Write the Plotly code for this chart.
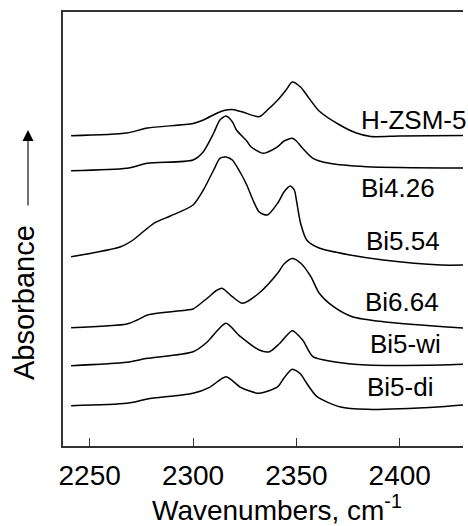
import plotly.graph_objects as go

# ---- data ----
labels = ["H-ZSM-5", "Bi4.26", "Bi5.54", "Bi6.64", "Bi5-wi", "Bi5-di"]

wn_hzsm = [2241, 2268, 2278, 2300, 2305, 2312, 2316, 2319, 2324, 2332, 2336, 2341, 2345, 2348, 2352, 2355, 2361, 2371, 2379, 2386, 2400, 2431]
ab_hzsm = [3.103, 3.13, 3.18, 3.225, 3.26, 3.333, 3.36, 3.365, 3.34, 3.293, 3.36, 3.46, 3.56, 3.64, 3.59, 3.51, 3.35, 3.21, 3.13, 3.095, 3.10, 3.105]

wn_bi426 = [2241, 2268, 2278, 2300, 2305, 2310, 2313, 2316, 2319, 2321, 2326, 2328, 2334, 2341, 2344, 2348, 2350, 2353, 2358, 2366, 2384, 2431]
ab_bi426 = [2.753, 2.777, 2.827, 2.86, 2.943, 3.13, 3.26, 3.30, 3.243, 3.16, 3.05, 2.993, 2.927, 2.993, 3.05, 3.077, 3.05, 2.977, 2.877, 2.827, 2.793, 2.78]

wn_bi554 = [2241, 2265, 2271, 2281, 2289, 2300, 2305, 2310, 2313, 2316, 2319, 2323, 2326, 2329, 2332, 2336, 2341, 2344, 2347, 2349, 2350, 2352, 2355, 2361, 2376, 2392, 2420, 2431]
ab_bi554 = [1.893, 1.993, 2.06, 2.227, 2.30, 2.41, 2.56, 2.76, 2.877, 2.89, 2.86, 2.73, 2.61, 2.46, 2.34, 2.31, 2.43, 2.54, 2.60, 2.56, 2.46, 2.23, 2.06, 1.98, 1.91, 1.86, 1.81, 1.81]

wn_bi664 = [2241, 2268, 2273, 2278, 2297, 2300, 2307, 2311, 2314, 2319, 2324, 2332, 2341, 2344, 2348, 2352, 2357, 2361, 2368, 2377, 2392, 2431]
ab_bi664 = [1.183, 1.22, 1.26, 1.31, 1.36, 1.37, 1.48, 1.55, 1.577, 1.493, 1.427, 1.53, 1.73, 1.82, 1.875, 1.83, 1.693, 1.53, 1.393, 1.293, 1.243, 1.18]

wn_bi5wi = [2241, 2268, 2278, 2300, 2307, 2312, 2316, 2323, 2332, 2337, 2342, 2348, 2353, 2358, 2368, 2384, 2420, 2431]
ab_bi5wi = [0.803, 0.837, 0.877, 0.943, 1.043, 1.16, 1.227, 1.093, 0.96, 0.943, 1.027, 1.153, 1.06, 0.893, 0.843, 0.81, 0.81, 0.817]

wn_bi5di = [2241, 2268, 2278, 2300, 2308, 2316, 2323, 2332, 2341, 2344, 2348, 2352, 2355, 2360, 2371, 2384, 2420, 2431]
ab_bi5di = [0.403, 0.427, 0.47, 0.527, 0.587, 0.693, 0.587, 0.527, 0.593, 0.68, 0.767, 0.72, 0.627, 0.493, 0.393, 0.367, 0.393, 0.41]

x_ticks = [2250, 2300, 2350, 2400]
x_range = [2237.1, 2430.6]

series_x = [wn_hzsm, wn_bi426, wn_bi554, wn_bi664, wn_bi5wi, wn_bi5di]
series_y = [ab_hzsm, ab_bi426, ab_bi554, ab_bi664, ab_bi5wi, ab_bi5di]

# ---- layout constants ----
W, H = 468, 526
L, R, T, B = 63, 5, 12, 80
PW, PH = W - L - R, H - T - B

def px(xp):
    return (xp - L) / PW

def py(yp):
    return (H - B - yp) / PH

FONT = "Liberation Sans, Arial, sans-serif"

# label centres in pixels (layout only)
label_pos = [(413, 120), (398, 188), (403, 241), (402, 302), (405, 344), (400, 387)]

fig = go.Figure()
for xs, ys, name in zip(series_x, series_y, labels):
    fig.add_trace(go.Scatter(x=xs, y=ys, mode="lines", name=name,
                             line=dict(color="black", width=1.5, shape="spline", smoothing=0.7),
                             showlegend=False, hoverinfo="skip"))

annotations = []
for name, (lx, ly) in zip(labels, label_pos):
    annotations.append(dict(text=name, xref="paper", yref="paper", x=px(lx), y=py(ly),
                            xanchor="center", yanchor="middle", showarrow=False,
                            font=dict(family=FONT, size=26, color="black")))

annotations.append(dict(text="Wavenumbers, cm<sup>-1</sup>", xref="paper", yref="paper",
                        x=px(277), y=py(508), xanchor="center", yanchor="middle", showarrow=False,
                        font=dict(family=FONT, size=28, color="black")))
annotations.append(dict(text="Absorbance", xref="paper", yref="paper", x=px(24), y=py(303),
                        xanchor="center", yanchor="middle", textangle=-90, showarrow=False,
                        font=dict(family=FONT, size=29, color="black")))
annotations.append(dict(text="", xref="paper", yref="paper", x=px(28), y=py(130),
                        ax=0, ay=77, showarrow=True, arrowhead=2, arrowsize=2, arrowwidth=1.1,
                        arrowcolor="black"))

fig.update_layout(
    width=W, height=H,
    margin=dict(l=L, r=R, t=T, b=B, pad=0),
    paper_bgcolor="white", plot_bgcolor="white",
    annotations=annotations,
    xaxis=dict(range=x_range, tickvals=x_ticks, ticks="inside", ticklen=8, tickwidth=1,
               tickcolor="#333", showline=True, linecolor="#333", linewidth=1.5, mirror=True,
               showgrid=False, zeroline=False, ticklabelstandoff=4,
               tickfont=dict(family=FONT, size=28, color="black")),
    yaxis=dict(range=[0, 4.34], showticklabels=False, ticks="", showline=True, linecolor="#333",
               linewidth=1.5, showgrid=False, zeroline=False),
)

fig.write_html("out.html", config={"displayModeBar": False},
               post_script="document.body.style.margin='0';document.body.style.overflow='hidden';")
